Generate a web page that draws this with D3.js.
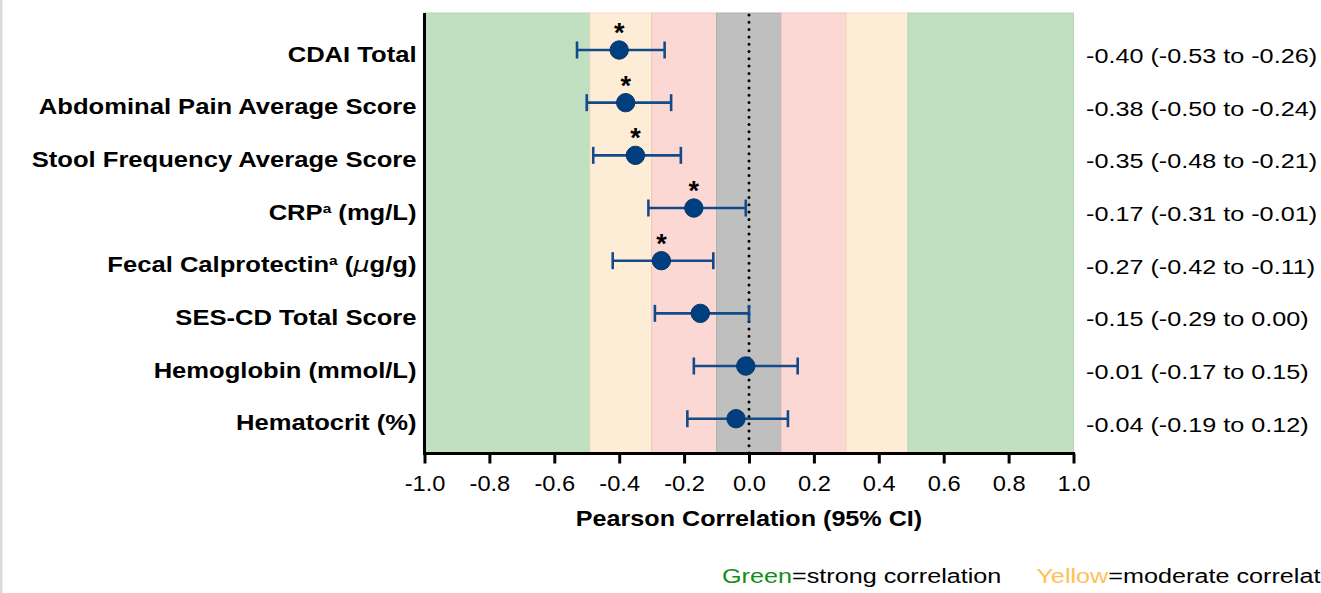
<!DOCTYPE html>
<html>
<head>
<meta charset="utf-8">
<script src="https://cdn.jsdelivr.net/npm/d3@7"></script>
<style>
  html, body { margin: 0; padding: 0; background: #fff; overflow: hidden; }
  svg { display: block; }
  text { font-family: "Liberation Sans", Arial, Helvetica, sans-serif; }
</style>
</head>
<body>
<svg id="chart" width="1321" height="593"></svg>
<script>
// ---------------- data ----------------
const categories = [
  "CDAI Total",
  "Abdominal Pain Average Score",
  "Stool Frequency Average Score",
  "CRP^a (mg/L)",
  "Fecal Calprotectin^a (μg/g)",
  "SES-CD Total Score",
  "Hemoglobin (mmol/L)",
  "Hematocrit (%)"
];
const estimates = [-0.40, -0.38, -0.35, -0.17, -0.27, -0.15, -0.01, -0.04];
const lowerCI   = [-0.53, -0.50, -0.48, -0.31, -0.42, -0.29, -0.17, -0.19];
const upperCI   = [-0.26, -0.24, -0.21, -0.01, -0.11,  0.00,  0.15,  0.12];
const significant = [true, true, true, true, true, false, false, false];
const xTicks = [-1.0, -0.8, -0.6, -0.4, -0.2, 0.0, 0.2, 0.4, 0.6, 0.8, 1.0];
const bandEdges = [-1.0, -0.49, -0.3, -0.1, 0.1, 0.3, 0.49, 1.0];
const legendItems = [
  { key: "Green", rest: "=strong correlation" },
  { key: "Yellow", rest: "=moderate correlation" }
];

// ---------------- styles / layout ----------------
const bandFill   = ["#c1dfc1", "#feedd6", "#fbd8d3", "#bfbfbf", "#fbd8d3", "#feedd6", "#c1dfc1"];
const bandStroke = ["#b5d6b5", "#f6dcc0", "#f1c6c0", "#b0b0b0", "#f1c6c0", "#f6dcc0", "#b5d6b5"];
const legendColors = ["#168c16", "#ffc05a"];
const SX = 1.2; // horizontal stretch of text in the reference
const plotTop = 13, plotBottom = 453.5;
const left = 424.5, right = 1073.5;

const fmtLocale = d3.formatLocale({decimal: ".", thousands: ",", grouping: [3], currency: ["", ""], minus: "-"});
const f1 = fmtLocale.format(".1f");
const f2 = fmtLocale.format(".2f");

const svg = d3.select("#chart");

// left grey strip (frame)
svg.append("rect").attr("x", 0).attr("y", 0).attr("width", 2.5).attr("height", 593).attr("fill", "#dadada");

const x = d3.scaleLinear().domain([-1, 1]).range([left, right]);
const y = d3.scalePoint().domain(categories).range([50, 418.7]);

const rows = categories.map((c, i) => ({
  cat: c, est: estimates[i], lo: lowerCI[i], hi: upperCI[i], sig: significant[i]
}));

// background bands
const bands = d3.pairs(bandEdges).map((p, i) => ({from: p[0], to: p[1], i}));
svg.append("g").selectAll("rect").data(bands).join("rect")
  .attr("x", d => x(d.from))
  .attr("y", plotTop)
  .attr("width", d => x(d.to) - x(d.from))
  .attr("height", plotBottom - plotTop)
  .attr("fill", d => bandFill[d.i])
  .attr("stroke", d => bandStroke[d.i])
  .attr("stroke-width", 1);

// dotted zero line
svg.append("line")
  .attr("x1", x(0)).attr("x2", x(0))
  .attr("y1", plotTop + 2).attr("y2", plotBottom)
  .attr("stroke", "#000")
  .attr("stroke-width", 3)
  .attr("stroke-linecap", "round")
  .attr("stroke-dasharray", "0 7.3");

// x axis
const xAxis = d3.axisBottom(x).tickValues(xTicks).tickFormat(f1).tickSize(10).tickSizeOuter(0).tickPadding(12);
const gx = svg.append("g").attr("transform", `translate(0,${plotBottom})`).call(xAxis);
gx.select(".domain").attr("stroke", "#000").attr("stroke-width", 3)
  .attr("d", `M${left - 1.5},0H${right + 1.5}`);
gx.selectAll(".tick line").attr("stroke", "#000").attr("stroke-width", 3);
gx.selectAll(".tick text")
  .attr("fill", "#000")
  .attr("font-size", 21.5)
  .attr("font-family", "Liberation Sans, Arial, sans-serif")
  .attr("transform", `scale(1.1,1)`);

// left axis line
svg.append("line")
  .attr("x1", left).attr("x2", left)
  .attr("y1", plotTop).attr("y2", plotBottom + 1.5)
  .attr("stroke", "#000").attr("stroke-width", 3);

// axis title
svg.append("text")
  .attr("transform", `translate(${x(0)},526) scale(1.17,1)`)
  .attr("text-anchor", "middle")
  .attr("font-size", 21.5).attr("font-weight", "bold")
  .text("Pearson Correlation (95% CI)");

// category labels
const catLabels = svg.append("g").selectAll("text").data(rows).join("text")
  .attr("transform", d => `translate(${left - 8},${y(d.cat) + 11.5}) scale(1.19,1)`)
  .attr("text-anchor", "end")
  .attr("font-size", 21.5).attr("font-weight", "bold");
catLabels.each(function(d) {
  const t = d3.select(this);
  const parts = d.cat.split("^a");
  parts.forEach((p, k) => {
    if (k > 0) {
      t.append("tspan").attr("font-size", 13).attr("dy", -7).text("a");
      const rest = p;
      const muIdx = rest.indexOf("μ");
      if (muIdx >= 0) {
        t.append("tspan").attr("dy", 7).text(rest.slice(0, muIdx));
        t.append("tspan").attr("font-style", "italic").attr("font-family", "DejaVu Sans, sans-serif").attr("font-weight", "normal").text("μ");
        t.append("tspan").text(rest.slice(muIdx + 1));
      } else {
        t.append("tspan").attr("dy", 7).text(rest);
      }
    } else {
      t.append("tspan").text(p);
    }
  });
});

// error bars
const eb = svg.append("g").attr("stroke", "#134b8a").attr("stroke-width", 2.6).attr("fill", "none");
eb.selectAll("line.ci").data(rows).join("line").attr("class", "ci")
  .attr("x1", d => x(d.lo)).attr("x2", d => x(d.hi))
  .attr("y1", d => y(d.cat)).attr("y2", d => y(d.cat));
eb.selectAll("line.capl").data(rows).join("line").attr("class", "capl")
  .attr("x1", d => x(d.lo)).attr("x2", d => x(d.lo))
  .attr("y1", d => y(d.cat) - 8.5).attr("y2", d => y(d.cat) + 8.5);
eb.selectAll("line.caph").data(rows).join("line").attr("class", "caph")
  .attr("x1", d => x(d.hi)).attr("x2", d => x(d.hi))
  .attr("y1", d => y(d.cat) - 8.5).attr("y2", d => y(d.cat) + 8.5);

// points
svg.append("g").selectAll("circle").data(rows).join("circle")
  .attr("cx", d => x(d.est)).attr("cy", d => y(d.cat)).attr("r", 9.2)
  .attr("fill", "#003f7f").attr("stroke", "#0a3566").attr("stroke-width", 1);

// significance asterisks
svg.append("g").selectAll("text").data(rows.filter(d => d.sig)).join("text")
  .attr("x", d => x(d.est)).attr("y", d => y(d.cat) - 8)
  .attr("text-anchor", "middle")
  .attr("font-size", 27).attr("font-weight", "bold")
  .text("*");

// right value labels
svg.append("g").selectAll("text").data(rows).join("text")
  .attr("transform", d => `translate(1086,${y(d.cat) + 13}) scale(1.2,1)`)
  .attr("font-size", 21)
  .text(d => `${f2(d.est)} (${f2(d.lo)} to ${f2(d.hi)})`);

// legend
const lg = svg.append("text")
  .attr("transform", `translate(722,583) scale(${SX},1)`)
  .attr("font-size", 21).attr("xml:space", "preserve");
legendItems.forEach((it, i) => {
  lg.append("tspan").attr("fill", legendColors[i]).text((i > 0 ? "\u00a0\u00a0\u00a0\u00a0\u00a0" : "") + it.key);
  lg.append("tspan").attr("fill", "#000").text(it.rest);
});
</script>
</body>
</html>
